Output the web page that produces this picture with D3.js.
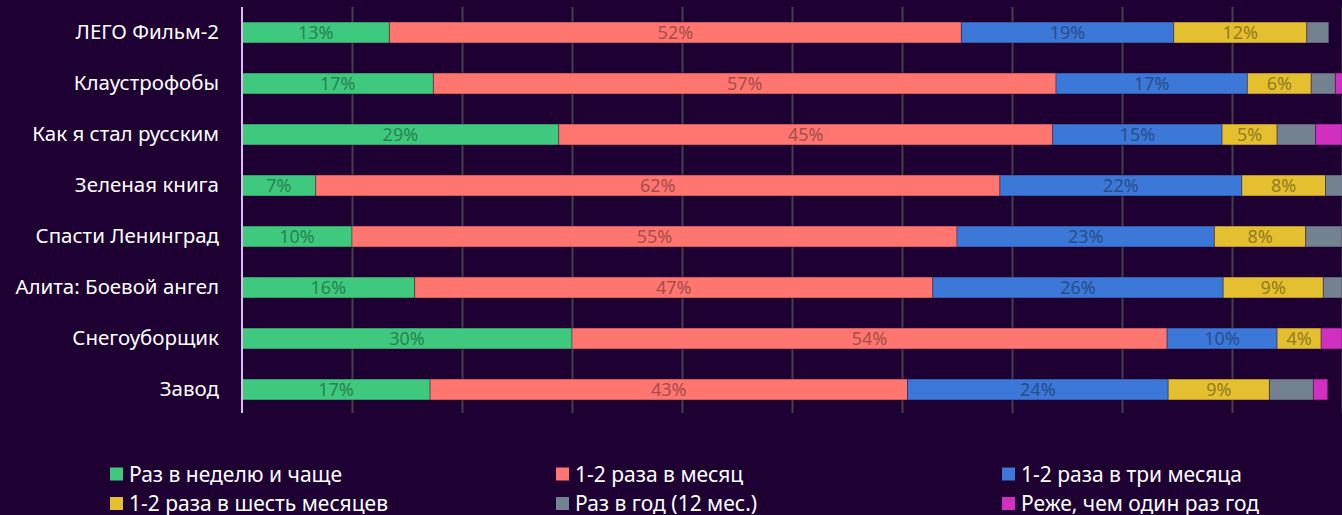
<!DOCTYPE html>
<html>
<head>
<meta charset="utf-8">
<script src="https://cdn.jsdelivr.net/npm/d3@7"></script>
<style>
  body { margin: 0; background: #1e0033; }
  svg { display: block; }
  .cat text { fill: #ffffff; font-family: "Noto Sans", sans-serif; font-size: 20.5px; }
  .grid line { stroke: #424049; stroke-width: 2; }
  .seglabel { font-family: "Noto Sans", sans-serif; font-size: 18px; text-anchor: middle; }
  .legend text { fill: #ffffff; font-family: "Noto Sans", sans-serif; font-size: 21px; }
</style>
</head>
<body>
<script>
// films, top to bottom
var films = ["ЛЕГО Фильм-2", "Клаустрофобы", "Как я стал русским", "Зеленая книга",
             "Спасти Ленинград", "Алита: Боевой ангел", "Снегоуборщик", "Завод"];

var seriesNames = ["Раз в неделю и чаще", "1-2 раза в месяц", "1-2 раза в три месяца",
                   "1-2 раза в шесть месяцев", "Раз в год (12 мес.)", "Реже, чем один раз год"];
var seriesColors = ["#3fc97e", "#ff7670", "#3c78d8", "#e4bf30", "#738290", "#d02fbf"];

// percentages per series, in film order
var weekly    = [13.4, 17.4, 28.8, 6.7, 10.0, 15.7, 30.0, 17.1];
var monthly   = [52.0, 56.6, 44.9, 62.2, 55.0, 47.1, 54.1, 43.4];
var quarterly = [19.3, 17.4, 15.4, 22.0, 23.4, 26.4, 10.0, 23.7];
var halfyear  = [12.1, 5.8, 5.0, 7.6, 8.3, 9.1, 4.0, 9.2];
var yearly    = [2.0, 2.2, 3.5, 1.6, 3.3, 1.7, 0, 4.0];
var rarer     = [0, 1.0, 2.4, 0, 0, 0, 1.9, 1.3];

var seriesValues = [weekly, monthly, quarterly, halfyear, yearly, rarer];
var labelled = [true, true, true, true, false, false];

var xTicks = [0, 10, 20, 30, 40, 50, 60, 70, 80, 90, 100];

var W = 1342, H = 515;

var svg = d3.select("body").append("svg")
    .attr("width", W)
    .attr("height", H);

var x = d3.scaleLinear().domain([0, 100]).range([242, 1342]);
var y = d3.scaleBand().domain(films).range([7, 415])
    .paddingInner(0.59).paddingOuter(0.295);

// vertical gridlines
svg.append("g")
    .attr("class", "grid")
    .attr("transform", "translate(0,413)")
    .call(d3.axisBottom(x).tickValues(xTicks.slice(1)).tickSize(-406).tickFormat(""))
    .call(function(g) { g.select(".domain").remove(); });

// stack the data
var rows = films.map(function(f, i) {
  var r = { film: f };
  seriesNames.forEach(function(s, j) { r[s] = seriesValues[j][i]; });
  return r;
});
var stacked = d3.stack().keys(seriesNames)(rows);

var layer = svg.selectAll(".layer")
    .data(stacked)
    .enter().append("g")
    .attr("class", "layer")
    .attr("fill", function(d, i) { return seriesColors[i]; });

layer.selectAll("rect")
    .data(function(d) { return d; })
    .enter().append("rect")
    .filter(function(d) { return d[1] - d[0] > 0; })
    .attr("x", function(d) { return x(d[0]); })
    .attr("y", function(d) { return y(d.data.film); })
    .attr("width", function(d) { return x(d[1]) - x(d[0]); })
    .attr("height", y.bandwidth())
    .attr("stroke", "rgba(40,0,40,0.35)")
    .attr("stroke-width", 1);

// percent labels inside the first four series
layer.each(function(ser, i) {
  if (!labelled[i]) return;
  var c = d3.color(seriesColors[i]).darker(1.2);
  d3.select(this).selectAll(".seglabel")
    .data(ser)
    .enter().append("text")
    .attr("class", "seglabel")
    .attr("fill", c.formatHex())
    .attr("x", function(d) { return (x(d[0]) + x(d[1])) / 2; })
    .attr("y", function(d) { return y(d.data.film) + y.bandwidth() / 2; })
    .attr("dy", "0.36em")
    .text(function(d) { return Math.round(d[1] - d[0]) + "%"; });
});

// category axis
svg.append("g")
    .attr("class", "cat")
    .attr("transform", "translate(242,0)")
    .call(d3.axisLeft(y).tickSize(0).tickPadding(23))
    .call(function(g) { g.select(".domain").remove(); });

// axis line
svg.append("line")
    .attr("x1", x(0)).attr("x2", x(0))
    .attr("y1", 7).attr("y2", 413)
    .attr("stroke", "#dcbcf5")
    .attr("stroke-width", 2);

// legend: three columns, two rows
var legendX = [110, 556, 1002];
var legendY = [474, 503.5];

var legend = svg.selectAll(".legend")
    .data(seriesNames)
    .enter().append("g")
    .attr("class", "legend")
    .attr("transform", function(d, i) {
      return "translate(" + legendX[i % 3] + "," + legendY[Math.floor(i / 3)] + ")";
    });

legend.append("rect")
    .attr("x", 0)
    .attr("y", -6.5)
    .attr("width", 13)
    .attr("height", 13)
    .style("fill", function(d, i) { return seriesColors[i]; });

legend.append("text")
    .attr("x", 19)
    .attr("dy", "0.36em")
    .text(function(d) { return d; });
</script>
</body>
</html>
